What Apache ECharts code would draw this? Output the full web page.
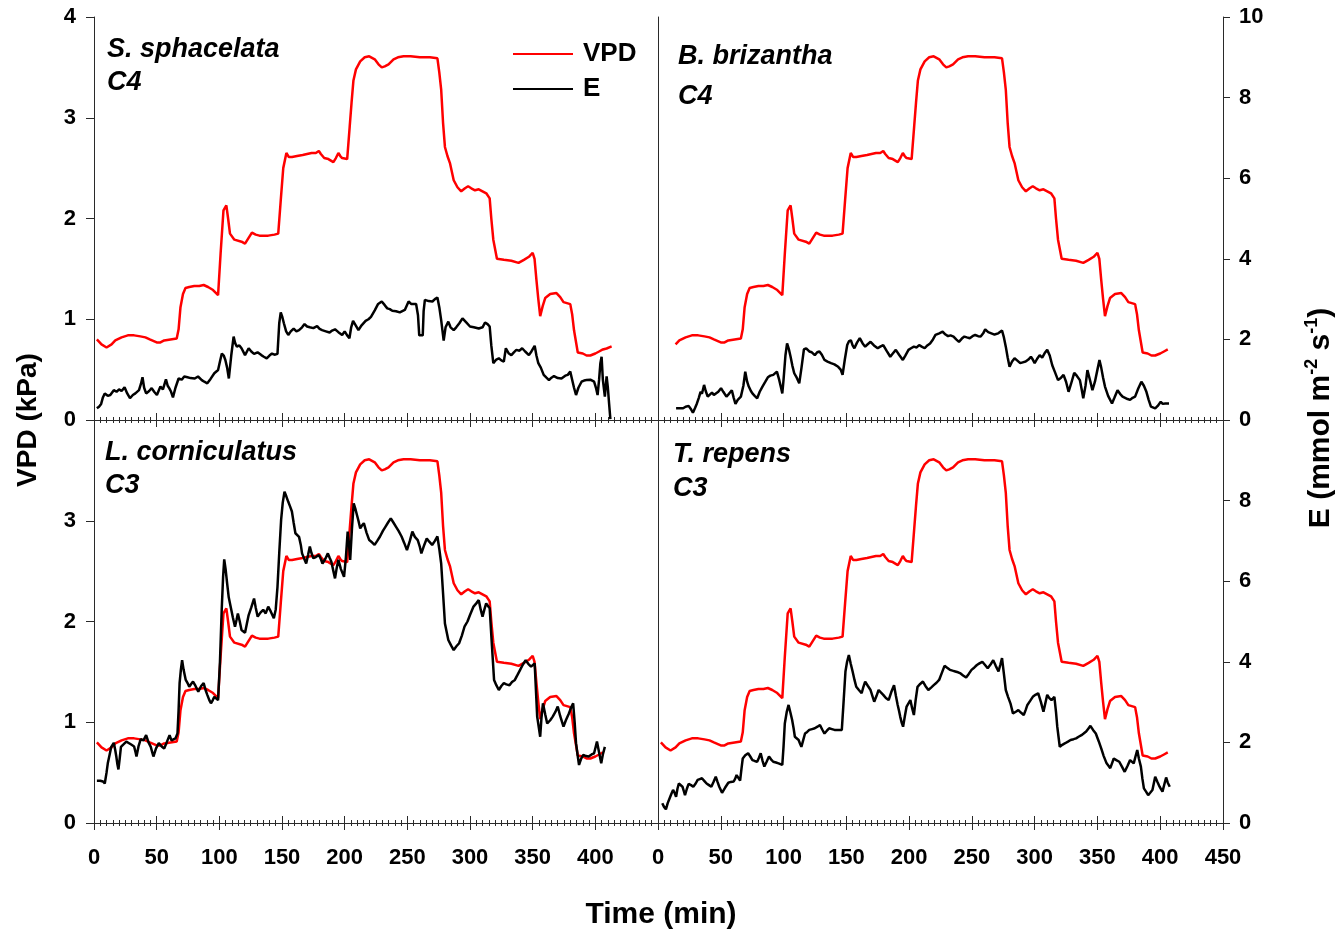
<!DOCTYPE html>
<html><head><meta charset="utf-8">
<script src="https://cdn.jsdelivr.net/npm/echarts@6/dist/echarts.min.js"></script>
<style>html,body{margin:0;padding:0;background:#fff}#c{width:1344px;height:932px}</style>
</head><body><div id="c"></div>
<script>
// ---- data ----
const timeTicks = [0, 50, 100, 150, 200, 250, 300, 350, 400, 450];
const vpdTicks = [0, 1, 2, 3, 4];
const eTicks = [0, 2, 4, 6, 8, 10];
const seriesNames = ['VPD', 'E'];

// VPD (kPa) vs time (min) — same chamber VPD programme in all panels
const vpd = [[2.3,0.80],[6,0.75],[10,0.72],[14,0.75],[17,0.79],[22,0.82],[27,0.84],[32,0.84],[37,0.83],[41,0.82],[44.5,0.80],[50,0.77],[53,0.77],[56,0.79],[61,0.80],[66,0.81],[67.5,0.90],[69,1.12],[71,1.25],[73,1.31],[76,1.32],[80,1.33],[84,1.33],[87.5,1.34],[91,1.32],[95,1.29],[99,1.24],[101,1.65],[103.3,2.08],[105.6,2.13],[107,2.00],[108.5,1.85],[112,1.79],[117.7,1.77],[120.5,1.75],[123,1.80],[126,1.86],[129,1.84],[132,1.83],[139,1.83],[144,1.84],[147,1.85],[149,2.18],[151,2.50],[153.5,2.65],[155.5,2.61],[158,2.61],[162,2.62],[166.5,2.63],[170,2.64],[173.6,2.65],[177,2.65],[179.4,2.67],[181,2.64],[183.7,2.60],[187,2.59],[191,2.56],[193,2.60],[195,2.65],[196.5,2.62],[198,2.60],[202,2.59],[204,2.91],[205.5,3.15],[207,3.37],[209,3.48],[212.4,3.56],[216,3.60],[219.6,3.61],[224,3.58],[227,3.53],[229.6,3.50],[232,3.51],[235,3.53],[239,3.58],[242.5,3.60],[247,3.61],[252.6,3.61],[260,3.60],[268,3.60],[274,3.59],[275.5,3.45],[277,3.28],[278.5,2.95],[280,2.71],[282,2.62],[284,2.55],[287,2.38],[290,2.31],[293,2.27],[296,2.30],[298.5,2.32],[301,2.30],[304,2.28],[307,2.29],[310,2.27],[313,2.25],[315.7,2.20],[317,2.00],[318.6,1.79],[321.5,1.60],[327,1.59],[333,1.58],[338.7,1.56],[343,1.59],[347,1.62],[350,1.66],[351.5,1.60],[353,1.39],[354.5,1.20],[356,1.03],[358,1.13],[360,1.21],[364,1.25],[369,1.26],[372,1.22],[374.6,1.17],[380,1.15],[381.5,1.05],[383,0.89],[386,0.67],[390,0.66],[393,0.64],[396,0.64],[400,0.66],[403,0.68],[406,0.70],[409,0.71],[413,0.73]];

// E (mmol m-2 s-1) vs time (min)
const eSphacelata = [[2.3,0.29],[4,0.33],[5.7,0.40],[7,0.55],[8.6,0.66],[11,0.60],[13,0.62],[15.8,0.74],[18,0.70],[20,0.76],[22,0.72],[24.4,0.81],[26.5,0.66],[28.7,0.54],[31,0.62],[33,0.66],[35.9,0.74],[37.5,0.90],[38.7,1.06],[40,0.80],[41.6,0.66],[44,0.72],[46,0.79],[48,0.70],[50.2,0.62],[53,0.83],[55,0.76],[57.4,1.01],[58.8,0.85],[60,0.79],[61.5,0.70],[63,0.56],[65,0.80],[67.5,1.03],[70,1.00],[72,1.08],[74.6,1.06],[77,1.04],[80.4,1.03],[83,1.08],[86,0.99],[88,0.95],[90.4,0.91],[93,1.02],[96,1.16],[99,1.24],[100.5,1.45],[102,1.65],[103.5,1.60],[104.8,1.49],[106.2,1.30],[107.6,1.03],[109.5,1.60],[111.4,2.07],[112.7,1.90],[114,1.82],[116,1.85],[117.7,1.78],[120.5,1.61],[123.4,1.78],[125.5,1.70],[127.7,1.64],[130.5,1.68],[133.5,1.61],[135.5,1.57],[137.8,1.53],[140,1.60],[142,1.65],[144,1.62],[146.4,1.64],[147.8,2.40],[149,2.67],[150.3,2.55],[151.5,2.40],[153.3,2.20],[155,2.11],[157,2.20],[159.3,2.27],[161.5,2.20],[163.6,2.23],[166,2.30],[168,2.38],[170,2.32],[172.2,2.30],[175,2.28],[178,2.33],[180,2.26],[182,2.23],[185,2.20],[188,2.17],[190,2.22],[192.3,2.25],[195,2.18],[198,2.11],[200,2.20],[202,2.10],[203.8,2.03],[205.2,2.30],[206.7,2.46],[208.8,2.35],[211,2.23],[213.5,2.35],[216.7,2.46],[219,2.50],[221,2.56],[224,2.72],[226.7,2.88],[229.6,2.94],[232,2.85],[234,2.77],[236,2.75],[238,2.71],[241,2.70],[244,2.67],[246,2.70],[248,2.73],[251,2.94],[253,2.88],[257,2.88],[258.5,2.60],[259.5,2.10],[261,2.07],[262.3,2.10],[263,2.70],[264,2.98],[267,2.95],[270,2.94],[272,3.00],[274,3.04],[275.5,2.80],[277,2.48],[279,1.97],[280.5,2.30],[282.7,2.44],[284.5,2.30],[287,2.23],[289,2.30],[291.5,2.40],[294,2.52],[297,2.42],[300,2.32],[303,2.30],[307,2.27],[310,2.30],[312,2.42],[314,2.38],[315.7,2.32],[317,1.85],[318.6,1.41],[321,1.50],[323,1.53],[325,1.48],[327,1.45],[328.6,1.78],[331,1.65],[333,1.61],[335,1.68],[337,1.74],[339.5,1.72],[341.6,1.78],[344,1.70],[347,1.61],[349,1.70],[351.6,1.84],[353,1.60],[354.5,1.41],[356.5,1.30],[358.8,1.12],[361,1.05],[363,0.99],[365,1.05],[367,1.09],[370,1.04],[373,1.03],[376,1.10],[378,1.12],[380,1.20],[381.5,1.00],[383,0.80],[384.6,0.62],[386.5,0.80],[389,0.95],[391,0.98],[393,0.99],[396,1.00],[399,0.95],[400.5,0.80],[401.8,0.62],[403,1.00],[404,1.40],[405,1.57],[406,1.00],[407.6,0.58],[408.5,0.90],[409,1.08],[410,0.80],[411,0.40],[412,0.02]];

const eBrizantha = [[14.4,0.29],[17,0.29],[20,0.29],[22,0.33],[24.4,0.35],[26,0.28],[27.8,0.18],[29.5,0.30],[31,0.41],[32.5,0.55],[33.9,0.70],[35,0.65],[36.7,0.87],[38,0.72],[39.6,0.58],[41,0.62],[43,0.68],[44.5,0.62],[46,0.58],[48,0.70],[50.2,0.79],[52,0.70],[54.5,0.58],[56.5,0.65],[58.8,0.74],[60.3,0.55],[61.7,0.40],[63.5,0.50],[66,0.58],[68,0.85],[69.5,1.20],[71,0.95],[72.3,0.83],[74,0.72],[75.2,0.66],[77,0.60],[79,0.54],[81,0.70],[83.2,0.83],[85.5,0.95],[87.5,1.06],[89.5,1.10],[91.8,1.12],[93,1.15],[94.7,1.20],[96.5,1.00],[98,0.80],[99,0.66],[100,1.00],[101.5,1.60],[102.8,1.90],[104.3,1.75],[105.6,1.57],[107,1.35],[108.5,1.16],[110.5,1.05],[112.5,0.91],[114.3,1.30],[116.2,1.75],[118,1.78],[120.5,1.70],[122.5,1.68],[124.9,1.61],[126.8,1.68],[128.6,1.70],[130.5,1.62],[132.6,1.49],[135,1.45],[137.8,1.41],[140.5,1.38],[143.5,1.32],[145.5,1.25],[147,1.12],[148.8,1.50],[150.7,1.86],[152,1.95],[153.6,1.98],[155,1.85],[156.4,1.78],[158.5,1.92],[160.7,2.03],[163,1.90],[165,1.82],[167,1.88],[169.3,1.94],[172,1.85],[175,1.78],[177,1.82],[179.4,1.86],[182,1.72],[185,1.57],[187,1.65],[189.4,1.74],[192,1.62],[195,1.49],[197,1.60],[199.5,1.74],[201.5,1.78],[203.8,1.82],[206,1.80],[208,1.86],[210,1.82],[212.4,1.78],[214.5,1.85],[216.7,1.90],[219,2.00],[221,2.11],[224,2.15],[226.7,2.19],[229,2.12],[231,2.08],[233,2.10],[235.4,2.07],[237.5,2.00],[239.7,1.94],[242,2.02],[244,2.07],[246,2.05],[248.3,2.03],[250.5,2.08],[252.6,2.11],[255,2.08],[257,2.07],[259,2.15],[260.6,2.25],[263,2.18],[265.5,2.15],[268,2.12],[271,2.15],[272.5,2.18],[274,2.22],[275.5,2.05],[277,1.82],[278.5,1.55],[280,1.32],[282,1.45],[284,1.53],[286,1.48],[288.5,1.41],[290.5,1.43],[292.8,1.45],[295,1.50],[297,1.57],[298.5,1.50],[300,1.41],[302,1.52],[304,1.61],[306,1.55],[308,1.66],[310,1.74],[312,1.60],[314,1.36],[316,1.20],[318.6,0.99],[321,1.05],[323,1.12],[325,0.95],[327,0.70],[329,0.90],[331.5,1.17],[333.5,1.10],[336,0.99],[337.5,0.75],[338.7,0.54],[340.5,0.85],[342,1.24],[344,1.00],[346,0.74],[348,0.95],[350,1.25],[351.6,1.49],[353,1.30],[354.5,1.05],[356,0.83],[358.5,0.60],[361.6,0.41],[363.5,0.55],[366,0.74],[368,0.65],[370,0.58],[372,0.55],[374,0.52],[376,0.50],[378,0.55],[380,0.58],[382.5,0.78],[385,0.95],[387,0.85],[389,0.70],[390.8,0.50],[392.6,0.33],[394,0.30],[396,0.29],[398,0.35],[400.4,0.45],[402,0.40],[404,0.41],[407,0.41]];

const eCorniculatus = [[2.3,1.05],[5,1.05],[7.2,1.03],[8.6,0.98],[10,1.25],[11,1.48],[12.5,1.70],[13.8,1.89],[15.8,1.99],[17,1.80],[17.8,1.65],[18.7,1.45],[19.5,1.33],[20.5,1.60],[21.5,1.89],[23.5,1.95],[25.8,2.02],[28,1.98],[30,1.94],[32,1.90],[33.2,1.75],[33.9,1.65],[35.5,1.90],[37.3,2.08],[39.5,2.05],[41.6,2.18],[43.5,2.00],[45.3,1.89],[46.5,1.75],[47.4,1.65],[49.5,1.85],[51.7,1.98],[54,1.90],[56,1.85],[58,2.00],[60.3,2.18],[61.8,2.05],[63.1,2.02],[65,2.10],[66.6,2.22],[67.5,2.80],[68.3,3.47],[69.3,3.80],[70.3,4.04],[71.5,3.80],[73.2,3.55],[75,3.45],[76,3.38],[77.5,3.45],[79,3.51],[81,3.40],[83.2,3.26],[85.5,3.40],[87.5,3.47],[89,3.30],[90.4,3.18],[92,3.05],[93.3,2.97],[94.8,3.05],[96,3.13],[97.5,3.10],[99,3.05],[100.5,4.00],[101.9,5.29],[103,6.10],[103.9,6.54],[105,6.30],[106.2,5.95],[107.5,5.60],[109,5.37],[110.8,5.10],[112.5,4.87],[113.8,5.05],[114.8,5.20],[116.3,5.00],[117.7,4.79],[119,4.75],[120.5,4.72],[122,4.95],[123.4,5.16],[125.5,5.35],[127.7,5.57],[129,5.35],[130.6,5.12],[132.8,5.22],[135,5.29],[137,5.20],[139,5.37],[141,5.25],[143.5,5.08],[145,5.30],[146.4,5.86],[147.8,6.70],[149.3,7.52],[150.6,7.95],[152,8.22],[153.5,8.10],[155,7.97],[156.5,7.85],[157.9,7.73],[159.3,7.45],[160.7,7.19],[162,7.15],[163.6,7.10],[165,6.90],[166,6.69],[167.8,6.55],[169.3,6.44],[170.8,6.65],[172.2,6.86],[173.5,6.70],[175,6.57],[177,6.60],[179.4,6.65],[181,6.55],[182.3,6.44],[184.5,6.55],[186.6,6.69],[188,6.58],[189.4,6.48],[191,6.25],[192.3,6.07],[193.5,6.30],[195,6.53],[197,6.30],[199.5,6.11],[201,6.60],[202.4,7.23],[203.5,6.90],[204.4,6.53],[205.8,7.30],[207.2,7.93],[208.5,7.80],[209.5,7.68],[211,7.50],[212.4,7.31],[213.8,7.38],[215.3,7.44],[217.5,7.20],[219.6,7.02],[222,6.96],[223.9,6.90],[226,7.00],[228.2,7.11],[230.5,7.25],[232.5,7.35],[234.5,7.45],[236.8,7.56],[239,7.45],[241,7.35],[243,7.25],[245.4,7.11],[247.5,6.95],[249.7,6.77],[252,7.00],[254,7.23],[256,7.10],[258.3,7.02],[260,6.85],[261.2,6.69],[263.5,6.90],[265.5,7.06],[267.5,6.98],[269.8,6.90],[272,7.00],[274,7.11],[275.5,6.80],[277,6.44],[278.5,5.70],[280,4.95],[281.3,4.75],[282.7,4.54],[285,4.40],[287,4.29],[289,4.38],[291.3,4.46],[293.5,4.65],[295.6,4.87],[298,5.00],[300,5.16],[302.8,5.37],[305,5.45],[307,5.53],[308.5,5.30],[310,5.12],[311.5,5.30],[312.9,5.45],[314.5,5.38],[315.7,5.33],[317.5,4.40],[319.2,3.55],[321,3.42],[323,3.30],[325,3.40],[327,3.47],[329,3.44],[331.5,3.42],[333.5,3.50],[335.8,3.55],[338,3.68],[340,3.80],[342,3.92],[344.4,4.04],[346.5,3.95],[348.7,3.88],[350,3.92],[351.6,3.96],[352.6,3.30],[353.6,2.64],[355,2.35],[356,2.14],[357,2.60],[358.2,2.97],[360,2.70],[361.6,2.47],[364,2.55],[366,2.64],[368,2.75],[370,2.89],[372,2.65],[374.6,2.39],[376.5,2.55],[378.9,2.72],[380.5,2.85],[382.3,2.97],[383.5,2.50],[384.6,1.98],[385.8,1.70],[387,1.44],[388.7,1.60],[390.4,1.69],[392.5,1.66],[394.7,1.65],[397,1.70],[399,1.73],[400.2,1.88],[401.3,2.02],[403,1.75],[404.7,1.48],[406,1.70],[407.6,1.89]];

const eRepens = [[3.4,0.49],[4.8,0.40],[6.3,0.34],[7.8,0.50],[9.2,0.61],[10.6,0.72],[12,0.82],[13.2,0.75],[14.4,0.65],[15.5,0.85],[16.6,0.98],[18,0.94],[19.5,0.90],[20.5,0.80],[21.5,0.69],[23,0.85],[24.4,0.97],[26.3,0.94],[28.1,0.90],[30,0.98],[31.6,1.07],[33.3,1.09],[35,1.11],[37,1.04],[38.7,0.98],[40.6,0.94],[42.5,0.90],[44.2,1.02],[46,1.15],[47.4,1.02],[48.8,0.90],[50,0.82],[51,0.75],[53.5,0.88],[56,1.00],[58,1.02],[60.3,1.03],[61.5,1.10],[62.6,1.19],[64,1.12],[65.4,1.05],[66.5,1.35],[67.5,1.60],[69.5,1.68],[71.8,1.73],[73.5,1.65],[75.2,1.56],[77,1.54],[79,1.52],[80.4,1.62],[81.8,1.73],[83.2,1.55],[84.7,1.40],[86.5,1.52],[88.4,1.65],[90,1.58],[91.8,1.52],[94,1.50],[96,1.48],[97.5,1.46],[99,1.44],[100,1.90],[101,2.47],[102.5,2.75],[104,2.93],[105.4,2.75],[106.8,2.56],[108,2.35],[109,2.14],[110.5,2.10],[112,2.06],[113,1.98],[114.2,1.89],[115.6,2.05],[117.1,2.22],[118.8,2.26],[120.5,2.31],[122.7,2.33],[124.9,2.35],[127,2.39],[129,2.43],[130.8,2.32],[132.6,2.22],[134.5,2.29],[136.3,2.35],[138.5,2.33],[140.6,2.31],[143.5,2.31],[146.4,2.31],[147.8,3.00],[149.3,3.76],[150.6,4.00],[152,4.17],[153.5,3.95],[155,3.76],[156.5,3.55],[157.9,3.38],[160,3.30],[162.2,3.22],[163.6,3.38],[165,3.51],[167.2,3.40],[169.3,3.30],[170.8,3.15],[172.2,3.01],[174,3.15],[175.7,3.30],[177.5,3.24],[179.4,3.18],[181.5,3.10],[183.7,3.05],[185.8,3.25],[188,3.42],[189.5,3.15],[190.9,2.93],[192,2.78],[192.9,2.64],[194,2.50],[195.2,2.39],[196.6,2.65],[198,2.89],[199.5,2.97],[201,3.05],[202.4,2.85],[203.8,2.68],[205.2,3.05],[206.7,3.38],[208.8,3.45],[211,3.51],[213,3.40],[215.3,3.30],[217.5,3.36],[219.6,3.42],[221.8,3.48],[223.9,3.55],[226,3.72],[228.2,3.90],[230.3,3.85],[232.5,3.80],[234.6,3.78],[236.8,3.76],[239,3.74],[241,3.71],[243,3.66],[245.4,3.61],[247.5,3.70],[249.7,3.80],[252,3.86],[254,3.92],[256,3.96],[258.3,4.00],[260.5,3.92],[262.6,3.84],[265,3.94],[267,4.04],[269,3.90],[271.2,3.76],[272.6,3.92],[274,4.09],[275.5,3.70],[277,3.30],[278.8,3.13],[280.7,2.97],[282.7,2.72],[285,2.76],[287,2.80],[289,2.74],[291.3,2.68],[292.8,2.80],[294.2,2.93],[296.4,3.03],[298.5,3.13],[300.6,3.18],[302.8,3.22],[305,3.00],[307,2.76],[308.5,2.97],[310,3.18],[311.7,3.10],[313.4,3.05],[314.5,3.09],[315.7,3.13],[317,2.75],[318,2.39],[319,2.14],[320,1.89],[322,1.94],[324.3,1.98],[326.5,2.02],[328.6,2.06],[331,2.08],[333,2.10],[335,2.14],[337.3,2.18],[339,2.22],[341,2.27],[342.7,2.34],[344.4,2.41],[346.5,2.31],[348.7,2.22],[351,2.03],[353,1.85],[355,1.66],[357.3,1.48],[358.8,1.42],[360.2,1.36],[361.6,1.48],[363,1.60],[365,1.56],[367.4,1.52],[369.5,1.40],[371.7,1.27],[374,1.42],[376,1.56],[377.5,1.52],[378.9,1.48],[380.3,1.65],[381.7,1.81],[383,1.60],[384.6,1.40],[385.8,1.10],[387,0.86],[388.7,0.78],[390.4,0.69],[392,0.75],[393.8,0.82],[395,1.00],[396,1.15],[397.8,1.02],[399.5,0.90],[400.6,0.84],[401.8,0.78],[403.2,0.95],[404.7,1.13],[406,1.00],[407.6,0.90]];

const species = ['S. sphacelata', 'B. brizantha', 'L. corniculatus', 'T. repens'];
const pathway = ['C4', 'C4', 'C3', 'C3'];
const eSeries = [eSphacelata, eBrizantha, eCorniculatus, eRepens];
const vpdSpan = [[0, 413], [14, 408], [0, 408], [0, 408]]; // recorded time window of each panel

// ---- layout / style ----
const FONT = "'Liberation Sans', Arial, Helvetica, sans-serif";
const AX = '#2a2a2a';
const grids = [
  {left: 94, top: 17, width: 564, height: 403},
  {left: 658, top: 17, width: 565, height: 403},
  {left: 94, top: 420, width: 564, height: 403},
  {left: 658, top: 420, width: 565, height: 403}
];
const labelFont = {fontFamily: FONT, fontWeight: 'bold', fontSize: 22, color: '#000'};
const hidden = {show: false};

const xAxis = [], yAxis = [], series = [];
grids.forEach((g, i) => {
  const bottomRow = i >= 2;
  [false, true].forEach(inner => {
    xAxis.push({
      type: 'value', gridIndex: i, position: 'bottom',
      min: timeTicks[0], max: timeTicks[timeTicks.length - 1], interval: 50,
      axisLine: {show: !inner, lineStyle: {color: AX, width: 1}},
      axisTick: {show: true, inside: inner, length: 7, lineStyle: {color: AX, width: 1}},
      minorTick: {show: true, splitNumber: 10, length: 3, lineStyle: {color: AX, width: 1}},
      splitLine: hidden, minorSplitLine: hidden,
      axisLabel: Object.assign({show: bottomRow && !inner, margin: 24, showMaxLabel: i === 3}, labelFont)
    });
  });
  const leftCol = i % 2 === 0;
  // VPD axis (visible with labels in left column; plain divider line in right column)
  yAxis.push({
    type: 'value', gridIndex: i, position: 'left',
    min: vpdTicks[0], max: vpdTicks[vpdTicks.length - 1], interval: 1,
    axisLine: {show: true, onZero: false, lineStyle: {color: AX, width: 1}},
    axisTick: {show: leftCol, length: 8, lineStyle: {color: AX, width: 1}},
    minorTick: hidden, splitLine: hidden, minorSplitLine: hidden,
    axisLabel: Object.assign({show: leftCol, margin: 18, showMaxLabel: i === 0}, labelFont)
  });
  // E axis (visible only in right column)
  yAxis.push(leftCol ? {
    type: 'value', gridIndex: i, position: 'right', show: false,
    min: eTicks[0], max: eTicks[eTicks.length - 1], interval: 2,
    axisLine: hidden, axisTick: hidden, axisLabel: hidden, splitLine: hidden, minorTick: hidden
  } : {
    type: 'value', gridIndex: i, position: 'right',
    min: eTicks[0], max: eTicks[eTicks.length - 1], interval: 2,
    axisLine: {show: true, onZero: false, lineStyle: {color: AX, width: 1}},
    axisTick: {show: true, length: 7, lineStyle: {color: AX, width: 1}},
    minorTick: hidden, splitLine: hidden, minorSplitLine: hidden,
    axisLabel: Object.assign({margin: 16, showMaxLabel: i === 1}, labelFont)
  });
  const span = vpdSpan[i];
  series.push({
    name: 'VPD', type: 'line', xAxisIndex: 2 * i, yAxisIndex: 2 * i,
    data: vpd.filter(p => p[0] >= span[0] && p[0] <= span[1]),
    showSymbol: false, symbol: 'none', color: '#ff0000',
    lineStyle: {color: '#ff0000', width: 2.5}, z: 2
  });
  series.push({
    name: 'E', type: 'line', xAxisIndex: 2 * i, yAxisIndex: 2 * i + 1,
    data: eSeries[i],
    showSymbol: false, symbol: 'none', color: '#000000',
    lineStyle: {color: '#000000', width: 2.5}, z: 3
  });
});

const labelPos = [[107, 50, 83], [678, 57, 97], [105, 453, 486], [673, 455, 489]];
const graphic = [];
labelPos.forEach((p, i) => {
  [species[i], pathway[i]].forEach((txt, k) => {
    graphic.push({type: 'text', x: p[0], y: k === 0 ? p[1] : p[2], z: 10,
      style: {text: txt, fontFamily: FONT, fontWeight: 'bold', fontStyle: 'italic', fontSize: 27,
        fill: '#000', align: 'left', verticalAlign: 'middle'}});
  });
});
graphic.push({type: 'text', x: 28, y: 420, rotation: Math.PI / 2, z: 10,
  style: {text: 'VPD (kPa)', fontFamily: FONT, fontWeight: 'bold', fontSize: 28, fill: '#000',
    align: 'center', verticalAlign: 'middle'}});
graphic.push({type: 'text', x: 1321, y: 418, rotation: Math.PI / 2, z: 10,
  style: {text: 'E (mmol m{sup|-2} s{sup|-1})', fontFamily: FONT, fontWeight: 'bold', fontSize: 30, fill: '#000',
    align: 'center', verticalAlign: 'middle', lineHeight: 36,
    rich: {sup: {fontFamily: FONT, fontWeight: 'bold', fontSize: 18, verticalAlign: 'top', lineHeight: 36, fill: '#000'}}}});
graphic.push({type: 'text', x: 661, y: 915, z: 10,
  style: {text: 'Time (min)', fontFamily: FONT, fontWeight: 'bold', fontSize: 30, fill: '#000',
    align: 'center', verticalAlign: 'middle'}});

const chart = echarts.init(document.getElementById('c'), null, {renderer: 'canvas'});
chart.setOption({
  animation: false,
  backgroundColor: '#ffffff',
  grid: grids,
  xAxis, yAxis, series, graphic,
  legend: {
    data: seriesNames, orient: 'vertical', left: 508, top: 34, itemWidth: 60, itemHeight: 2,
    icon: 'rect', itemGap: 5, selectedMode: false,
    textStyle: {fontFamily: FONT, fontWeight: 'bold', fontSize: 26, color: '#000', lineHeight: 30, padding: [0, 0, 0, 5]}
  }
});
</script>
</body></html>
